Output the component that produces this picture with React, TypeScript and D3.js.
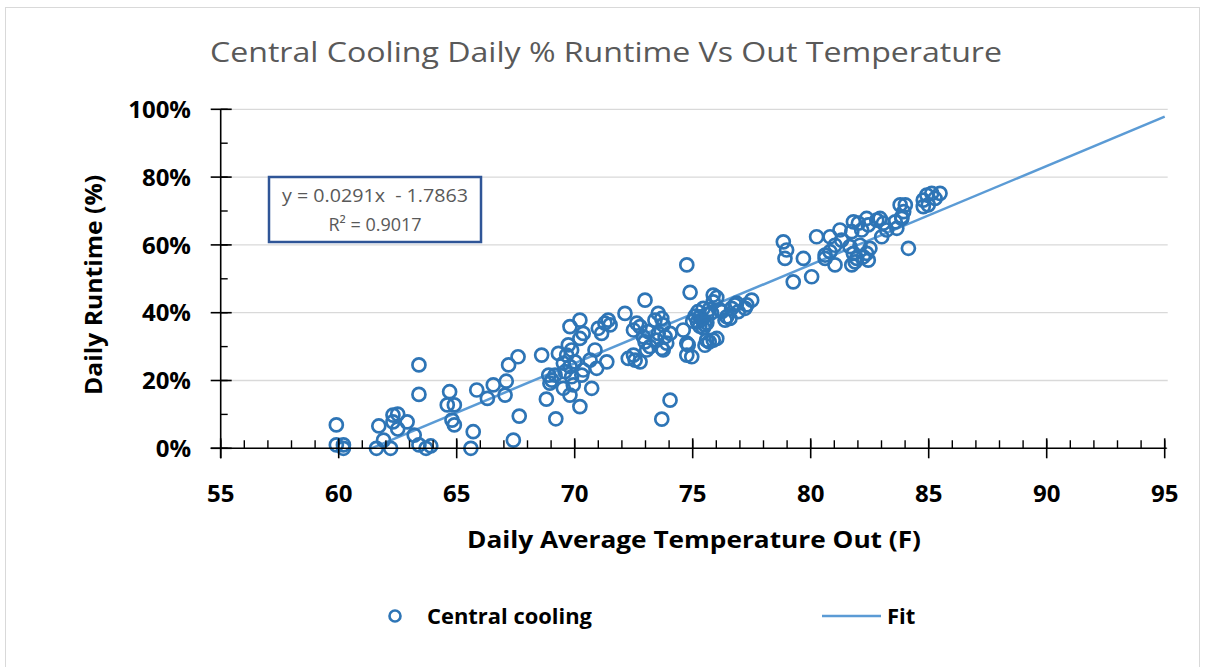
import React from "react";
import * as d3 from "d3";

const title = "Central Cooling Daily % Runtime Vs Out Temperature";
const xTicks = [55, 60, 65, 70, 75, 80, 85, 90, 95];
const yTicks = [0, 0.2, 0.4, 0.6, 0.8, 1.0];
const fitSlope = 0.0291;
const fitIntercept = -1.7863;
const eqLine1 = "y = 0.0291x  - 1.7863";
const eqLine2 = "R² = 0.9017";

// temperature (F), runtime (%)
const temps: number[] = [
  59.9, 59.9, 60.2, 60.2, 61.7, 61.9, 61.6, 62.2, 62.3, 62.5, 62.3, 62.5, 62.9, 63.2, 63.4, 63.4, 63.4, 63.7, 63.9,
  64.7, 64.6, 64.9, 64.8, 64.9, 65.6, 65.7, 65.85, 66.55, 66.3, 67.1, 67.2, 67.05, 67.6, 67.65, 67.4,
  68.6, 68.9, 68.8, 69.2, 68.95, 69.17, 69.03, 69.31, 69.8, 70.22, 70.36, 69.73, 69.87, 69.66, 70.22, 69.52, 69.8,
  70.01, 69.59, 69.87, 69.52, 69.8, 69.94, 70.22, 70.72, 70.36, 70.3, 70.65, 70.86, 70.93, 71.36, 71.0, 71.28, 71.42,
  71.5, 71.14, 72.13, 72.27, 72.56, 72.77, 72.49, 72.49, 72.77, 72.91, 72.63, 72.98,
  73.54, 73.69, 73.4, 73.75, 73.54, 73.83, 73.47, 74.04, 73.9, 73.69, 73.12, 73.19, 73.05, 72.98, 73.75, 74.04, 73.69,
  74.75, 74.89, 74.6, 74.75, 74.75, 74.96, 74.81, 75.87, 76.02, 75.87,
  75.22, 75.3, 75.4, 75.2, 75.52, 75.3, 75.45, 75.6, 75.7, 75.8, 75.45, 75.6, 75.1, 75.0,
  75.59, 75.87, 76.02, 75.52, 75.7,
  76.23, 76.44, 76.79, 76.93, 77.22, 77.5, 77.29, 76.37, 76.58, 76.65, 76.16, 76.86,
  78.84, 78.98, 78.91, 79.69, 79.26, 80.04, 80.25,
  80.82, 81.03, 81.24, 81.31, 80.61, 80.82, 80.61, 81.03,
  81.74, 81.81, 82.02, 82.16, 82.37, 82.44, 82.8, 82.94, 83.08, 83.22,
  81.66, 81.81, 81.95, 82.09, 81.74, 81.88, 82.23, 82.37, 82.51, 82.44,
  83.01, 83.65, 83.58, 83.86, 83.79, 84.01, 83.94, 83.86, 84.14,
  84.77, 84.92, 85.13, 85.27, 84.98, 84.77, 85.48
];
const runtimes: number[] = [
  6.9, 1.0, 1.0, 0, 6.6, 2.4, 0, 0, 9.8, 10.1, 7.8, 5.7, 7.8, 3.9, 24.6, 15.9, 1.0, 0, 0.7,
  16.7, 12.8, 12.8, 8.3, 6.9, 0, 4.9, 17.2, 18.7, 14.7, 19.8, 24.6, 15.7, 27.0, 9.5, 2.4,
  27.5, 21.6, 14.5, 8.7, 19.2, 21.6, 20.1, 28.0, 35.9, 37.8, 33.9, 30.5, 29.0, 27.5, 32.4, 25.1, 24.1,
  25.5, 22.6, 21.1, 17.7, 15.7, 18.7, 12.3, 17.7, 23.1, 21.6, 26.0, 29.0, 23.6, 25.5, 35.4, 36.9, 37.8,
  36.4, 33.9, 39.8, 26.5, 26.0, 25.5, 27.5, 34.9, 35.9, 32.9, 36.9, 43.7,
  39.8, 38.3, 37.8, 36.4, 33.9, 32.9, 31.9, 33.9, 31.0, 29.5, 34.4, 30.0, 29.0, 31.4, 29.0, 14.2, 8.6,
  54.1, 46.0, 34.9, 31.0, 27.5, 27.0, 30.5, 45.2, 44.5, 43.2,
  40.3, 38.8, 38.0, 37.3, 36.4, 36.0, 35.5, 39.5, 41.0, 40.0, 41.3, 37.0, 39.0, 37.5,
  31.9, 31.9, 32.4, 30.4, 31.4,
  40.3, 38.8, 42.3, 40.3, 41.3, 43.7, 42.3, 37.8, 38.3, 41.3, 40.8, 42.8,
  60.9, 58.5, 56.0, 56.0, 49.1, 50.6, 62.4,
  62.4, 59.9, 64.4, 61.4, 57.0, 58.0, 56.0, 54.1,
  63.9, 66.8, 66.4, 64.4, 67.8, 65.9, 67.3, 67.8, 66.4, 64.4,
  59.5, 57.5, 56.0, 59.9, 54.1, 55.0, 56.5, 57.5, 59.0, 55.5,
  62.4, 64.9, 66.8, 67.8, 71.8, 71.8, 69.8, 68.3, 59.0,
  73.2, 74.7, 75.2, 73.7, 71.8, 71.3, 75.2
];

const W = 1205;
const H = 667;
const plotLeft = 220.7;
const plotRight = 1164.7;
const plotTop = 109.3;
const plotBottom = 448.3;

const FONT = "'Open Sans', 'Noto Sans', sans-serif";
const MARK = "#2e75b6";
const FIT = "#5b9bd5";

export default function App() {
  const x = d3.scaleLinear().domain([55, 95]).range([plotLeft, plotRight]);
  const y = d3.scaleLinear().domain([0, 1]).range([plotBottom, plotTop]);
  const xMinor = d3.range(55, 95.01, 1);
  const yMinor = d3.range(0, 1.001, 0.1);
  const fitStart = -fitIntercept / fitSlope;
  const fitLine = d3.line<number>().x((t) => x(t)).y((t) => y(fitSlope * t + fitIntercept));
  const pct = d3.format(".0%");

  return (
    <svg width={W} height={H} style={{ position: "absolute", left: 0, top: 0, background: "#fff" }} fontFamily={FONT}>
      <rect x={5.5} y={7.5} width={1194} height={670} fill="#fff" stroke="#d9d9d9" strokeWidth={1} />
      <text x={606} y={62} textAnchor="middle" fontSize={28} fill="#595959" textLength={792} lengthAdjust="spacingAndGlyphs">{title}</text>

      {yTicks.map((v) => (
        <line key={"g" + v} x1={plotLeft} x2={plotRight + 3} y1={y(v)} y2={y(v)} stroke="#d9d9d9" strokeWidth={1.3} />
      ))}

      {/* fit line */}
      <path d={fitLine([fitStart, 95]) || ""} fill="none" stroke={FIT} strokeWidth={2.5} />

      {/* points */}
      {temps.map((t, i) => (
        <circle key={i} cx={x(t)} cy={y(Math.max(0, runtimes[i]) / 100)} r={6.5} fill="none" stroke={MARK} strokeWidth={2.7} />
      ))}

      {/* axes */}
      <line x1={plotLeft} x2={plotLeft} y1={plotTop} y2={plotBottom + 10} stroke="#000" strokeWidth={1.6} />
      <line x1={plotLeft - 10} x2={plotRight + 2} y1={plotBottom} y2={plotBottom} stroke="#000" strokeWidth={1.6} />
      {yMinor.map((v) => (
        <line key={"ym" + v} x1={plotLeft} x2={plotLeft + 7} y1={y(v)} y2={y(v)} stroke="#000" strokeWidth={1.4} />
      ))}
      {yTicks.map((v) => (
        <line key={"yt" + v} x1={plotLeft - 10} x2={plotLeft + 11} y1={y(v)} y2={y(v)} stroke="#000" strokeWidth={1.6} />
      ))}
      {xMinor.map((v) => (
        <line key={"xm" + v} x1={x(v)} x2={x(v)} y1={plotBottom - 8} y2={plotBottom} stroke="#000" strokeWidth={1.4} />
      ))}
      {xTicks.map((v) => (
        <line key={"xt" + v} x1={x(v)} x2={x(v)} y1={plotBottom - 10} y2={plotBottom + 10} stroke="#000" strokeWidth={1.6} />
      ))}

      {yTicks.map((v) => (
        <text key={"yl" + v} x={191} y={y(v)} dy="0.36em" textAnchor="end" fontSize={24} fontWeight="bold" fill="#000">{pct(v)}</text>
      ))}
      {xTicks.map((v) => (
        <text key={"xl" + v} x={x(v)} y={502} textAnchor="middle" fontSize={24} fontWeight="bold" fill="#000">{v}</text>
      ))}

      <text x={694} y={548} textAnchor="middle" fontSize={24} fontWeight="bold" fill="#000" textLength={454} lengthAdjust="spacingAndGlyphs">Daily Average Temperature Out (F)</text>
      <text transform="translate(102,285) rotate(-90)" textAnchor="middle" fontSize={24} fontWeight="bold" fill="#000" textLength={220} lengthAdjust="spacingAndGlyphs">Daily Runtime (%)</text>

      {/* equation box */}
      <rect x={269} y={177} width={212} height={65} fill="#fff" stroke="#2f5597" strokeWidth={2.5} />
      <text x={375} y={202} textAnchor="middle" fontSize={18} fill="#595959" style={{ whiteSpace: "pre" }} textLength={186} lengthAdjust="spacingAndGlyphs">{eqLine1}</text>
      <text x={375} y={231} textAnchor="middle" fontSize={18} fill="#595959">{eqLine2}</text>

      {/* legend */}
      <circle cx={395} cy={616} r={5.5} fill="none" stroke={MARK} strokeWidth={2.6} />
      <text x={427} y={624} fontSize={22} fontWeight="bold" fill="#000" textLength={165} lengthAdjust="spacingAndGlyphs">Central cooling</text>
      <line x1={822} x2={881} y1={616} y2={616} stroke={FIT} strokeWidth={2.5} />
      <text x={887} y={624} fontSize={22} fontWeight="bold" fill="#000">Fit</text>
    </svg>
  );
}
